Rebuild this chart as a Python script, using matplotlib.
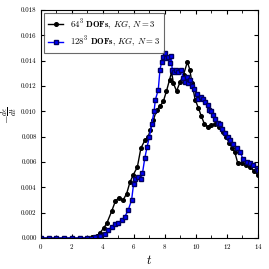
import matplotlib
matplotlib.use('Agg')
import matplotlib.pyplot as plt
from matplotlib.ticker import MultipleLocator

plt.rcParams['font.family'] = 'serif'
plt.rcParams['font.serif'] = ['cmr10', 'DejaVu Serif']
plt.rcParams['mathtext.fontset'] = 'cm'
plt.rcParams['axes.formatter.use_mathtext'] = True

# coarse run, 64^3 DOFs
t_64 = [0.0, 0.5, 1.0, 1.5, 2.0, 2.5, 3.0, 3.3, 3.6, 3.8, 4.06, 4.26, 4.56, 4.8,
        5.03, 5.3, 5.53, 5.74, 5.96, 6.22, 6.45, 6.7, 6.92, 7.05, 7.25, 7.46,
        7.68, 7.9, 8.1, 8.3, 8.43, 8.55, 8.75, 8.97, 9.2, 9.45, 9.6, 9.75, 9.95,
        10.15, 10.35, 10.55, 10.75, 11.0, 11.25, 11.5, 11.75, 11.95, 12.15,
        12.35, 12.5, 12.7, 12.95, 13.25, 13.5, 13.75, 13.98]
diss_64 = [0.0, 0.0, 0.0, 0.0, 0.0, 0.0, 0.00002, 0.00005, 0.00015, 0.0004,
           0.0008, 0.0012, 0.0021, 0.0029, 0.0032, 0.0030, 0.0035, 0.0044,
           0.0050, 0.0056, 0.0071, 0.0077, 0.0080, 0.0085, 0.0093, 0.0101,
           0.0104, 0.0108, 0.0116, 0.0125, 0.0131, 0.0122, 0.0116, 0.0123,
           0.0129, 0.0139, 0.0133, 0.0122, 0.0109, 0.0103, 0.0096, 0.0090,
           0.0088, 0.0089, 0.0090, 0.0088, 0.0084, 0.0080, 0.0075, 0.0071,
           0.0068, 0.0059, 0.0059, 0.0058, 0.0056, 0.0053, 0.0050]

# fine run, 128^3 DOFs
t_128 = [0.0, 0.5, 1.0, 1.5, 2.0, 2.5, 3.0, 3.5, 3.8, 4.13, 4.34, 4.56, 4.77,
         5.0, 5.2, 5.42, 5.63, 5.85, 5.98, 6.1, 6.28, 6.45, 6.55, 6.7, 6.85,
         7.0, 7.15, 7.3, 7.38, 7.57, 7.68, 7.79, 7.9, 8.0, 8.1, 8.2, 8.32, 8.4,
         8.47, 8.6, 8.7, 8.86, 9.03, 9.18, 9.3, 9.4, 9.5, 9.6, 9.72, 9.9, 10.05,
         10.15, 10.3, 10.47, 10.6, 10.75, 10.84, 11.0, 11.12, 11.23, 11.4,
         11.55, 11.7, 11.87, 12.05, 12.2, 12.4, 12.63, 12.84, 13.05, 13.27,
         13.5, 13.7, 13.92, 14.0]
diss_128 = [0.0, 0.0, 0.0, 0.0, 0.0, 0.0, 0.0, 0.00005, 0.0002, 0.0003, 0.0006,
            0.0009, 0.0011, 0.0012, 0.0014, 0.0017, 0.0022, 0.0030, 0.0043,
            0.0047, 0.0048, 0.0047, 0.0051, 0.0063, 0.0072, 0.0080, 0.0090,
            0.0100, 0.0109, 0.0117, 0.0133, 0.0139, 0.0143, 0.0146, 0.0142,
            0.0143, 0.0138, 0.0144, 0.0133, 0.0131, 0.0133, 0.0131, 0.0133,
            0.0126, 0.0123, 0.0127, 0.0122, 0.0125, 0.0120, 0.0118, 0.0114,
            0.0110, 0.0111, 0.0110, 0.0107, 0.0105, 0.0101, 0.0100, 0.0097,
            0.0094, 0.0091, 0.0090, 0.0086, 0.0083, 0.0080, 0.0077, 0.0074,
            0.0071, 0.0068, 0.0062, 0.0060, 0.0059, 0.0058, 0.0055, 0.0054]

label_64 = r'$64^3$ $\mathbf{DOFs}$, $KG$, $N=3$'
label_128 = r'$128^3$ $\mathbf{DOFs}$, $KG$, $N=3$'

fig = plt.figure(figsize=(2.69, 2.69), dpi=100)
ax = fig.add_axes([0.152, 0.115, 0.807, 0.848])

ax.plot(t_64, diss_64, '-o', color='k', lw=1.0, ms=2.6, label=label_64)
ax.plot(t_128, diss_128, '-s', color='#0000ff', lw=1.0, ms=2.6,
        mec='#000060', label=label_128)

ax.set_xlim(0, 14)
ax.set_ylim(0, 0.018)
ax.xaxis.set_major_locator(MultipleLocator(2))
ax.xaxis.set_minor_locator(MultipleLocator(1))
ax.yaxis.set_major_locator(MultipleLocator(0.002))
ax.yaxis.set_major_formatter(plt.FormatStrFormatter('%.3f'))
ax.tick_params(which='both', direction='in', top=True, right=True,
               labelsize=5, pad=3)
ax.tick_params(which='major', length=3)
ax.tick_params(which='minor', length=2)

ax.set_xlabel(r'$t$', fontsize=9, labelpad=2)
ax.set_ylabel(r'$-\frac{d\epsilon}{dt}$', fontsize=8)
ax.yaxis.set_label_coords(-0.10, 0.54)

leg = ax.legend(loc='upper left', fontsize=6.3, fancybox=False,
                edgecolor='#444444', handlelength=1.7, handletextpad=0.8,
                borderpad=0.45, labelspacing=0.3, borderaxespad=0.4)
leg.get_frame().set_linewidth(0.8)

fig.savefig('out.png', dpi=100)
